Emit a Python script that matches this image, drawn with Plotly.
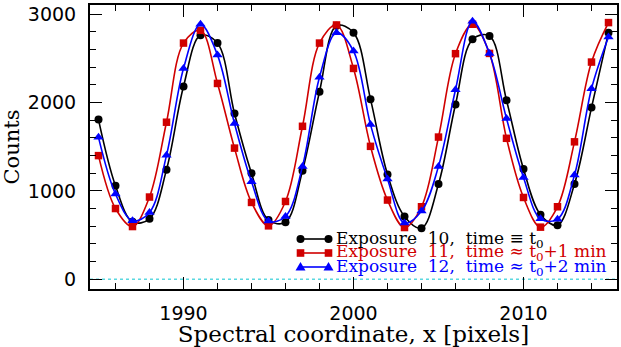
import plotly.graph_objects as go

# ---------------- data ----------------
pixels = [1985, 1986, 1987, 1988, 1989, 1990, 1991, 1992, 1993, 1994,
          1995, 1996, 1997, 1998, 1999, 2000, 2001, 2002, 2003, 2004,
          2005, 2006, 2007, 2008, 2009, 2010, 2011, 2012, 2013, 2014, 2015]

exp10 = [1808, 1059, 650, 684, 1241, 2183, 2762, 2674, 1876, 1199,
         670, 647, 1229, 2123, 2870, 2792, 2039, 1187, 711, 579,
         1078, 1978, 2716, 2754, 2027, 1249, 730, 613, 1078, 1944, 2792]

exp11 = [1400, 801, 597, 931, 1778, 2674, 2818, 2217, 1485, 870,
         605, 881, 1732, 2674, 2879, 2387, 1505, 897, 586, 821,
         1610, 2554, 2887, 2557, 1596, 926, 590, 821, 1556, 2459, 2906]

exp12 = [1607, 965, 662, 756, 1403, 2387, 2887, 2538, 1763, 1104,
         660, 711, 1278, 2288, 2792, 2584, 1751, 1135, 636, 772,
         1278, 2145, 2920, 2555, 1820, 1153, 684, 681, 1180, 2157, 2742]

series_names = ["Exposure  10,  time \u2261 t<sub>0</sub>",
                "Exposure  11,  time \u2248 t<sub>0</sub>+1 min",
                "Exposure  12,  time \u2248 t<sub>0</sub>+2 min"]
series_colors = ["#000000", "#d00000", "#0000ff"]
series_symbols = ["circle", "square", "triangle-up"]
series_sizes = [8, 7.5, 9]
x_tickvals = [1990, 2000, 2010]
y_tickvals = [0, 1000, 2000, 3000]

# ---------------- figure ----------------
fig = go.Figure()
for ys, col, sym, sz in zip([exp10, exp11, exp12], series_colors, series_symbols, series_sizes):
    fig.add_trace(go.Scatter(
        x=pixels, y=ys, mode="lines+markers",
        line=dict(color=col, width=1.6, shape="spline", smoothing=1.0),
        marker=dict(symbol=sym, size=sz, color=col, line=dict(width=0)),
        showlegend=False, hoverinfo="skip"))

# zero reference line (dotted cyan)
fig.add_shape(type="line", xref="paper", yref="y", x0=0, x1=1, y0=0, y1=0,
              line=dict(color="#5ad8e0", width=1.5, dash="dot"), layer="below")

# ---------------- manual legend ----------------
L = 90.0; W = 527.0; T = 5.0; H = 284.0
def px2paper_x(px):
    return (px - L) / W
def px2paper_y(py):
    return (T + H - py) / H

leg_rows = [239.0, 253.0, 267.0]
key_x0, key_x1 = 300.5, 328.5
text_x = 334
for row_y, name, col, sym in zip(leg_rows, series_names, series_colors, series_symbols):
    yp = px2paper_y(row_y)
    xa, xb = px2paper_x(key_x0), px2paper_x(key_x1)
    fig.add_shape(type="line", xref="paper", yref="paper", x0=xa, x1=xb, y0=yp, y1=yp,
                  line=dict(color=col, width=1.6))
    for xc in (xa, xb):
        common = dict(xref="paper", yref="paper", xsizemode="pixel", ysizemode="pixel",
                      xanchor=xc, yanchor=yp, line=dict(width=0), fillcolor=col)
        if sym == "circle":
            fig.add_shape(type="circle", x0=-4, x1=4, y0=-4, y1=4, **common)
        elif sym == "square":
            fig.add_shape(type="rect", x0=-3.8, x1=3.8, y0=-3.8, y1=3.8, **common)
        else:
            fig.add_shape(type="path", path="M -5 -3.5 L 5 -3.5 L 0 5 Z", **common)
    fig.add_annotation(x=px2paper_x(text_x), y=yp, xref="paper", yref="paper",
                       xanchor="left", yanchor="middle", showarrow=False,
                       text=name, font=dict(family="DejaVu Serif", size=17, color=col))

axis_common = dict(showline=True, linecolor="black", linewidth=2, mirror="ticks",
                   ticks="inside", ticklen=12, tickwidth=1.2, tickcolor="black",
                   showgrid=False, zeroline=False,
                   tickfont=dict(family="DejaVu Sans", size=19, color="black"))

fig.update_xaxes(range=[1984.5, 2015.5], tickvals=x_tickvals,
                 minor=dict(tick0=1990, dtick=2, ticks="inside", ticklen=6,
                            tickwidth=1.2, tickcolor="black", showgrid=False),
                 title=dict(text="Spectral coordinate, x [pixels]", standoff=5,
                            font=dict(family="DejaVu Serif", size=23, color="black")),
                 ticklabelstandoff=6,
                 **axis_common)
fig.update_yaxes(range=[-110, 3105], tickvals=y_tickvals,
                 minor=dict(tick0=0, dtick=200, ticks="inside", ticklen=6,
                            tickwidth=1.2, tickcolor="black", showgrid=False),
                 title=dict(text="Counts", standoff=4,
                            font=dict(family="DejaVu Serif", size=21, color="black")),
                 ticklabelstandoff=8,
                 **axis_common)

fig.update_layout(width=621, height=347,
                  margin=dict(l=90, r=4, t=5, b=58, autoexpand=False),
                  paper_bgcolor="white", plot_bgcolor="white",
                  showlegend=False)

fig.write_html("out.html",
               config={"displayModeBar": False},
               post_script="document.body.style.margin='0px';"
                           "document.documentElement.style.overflow='hidden';")
